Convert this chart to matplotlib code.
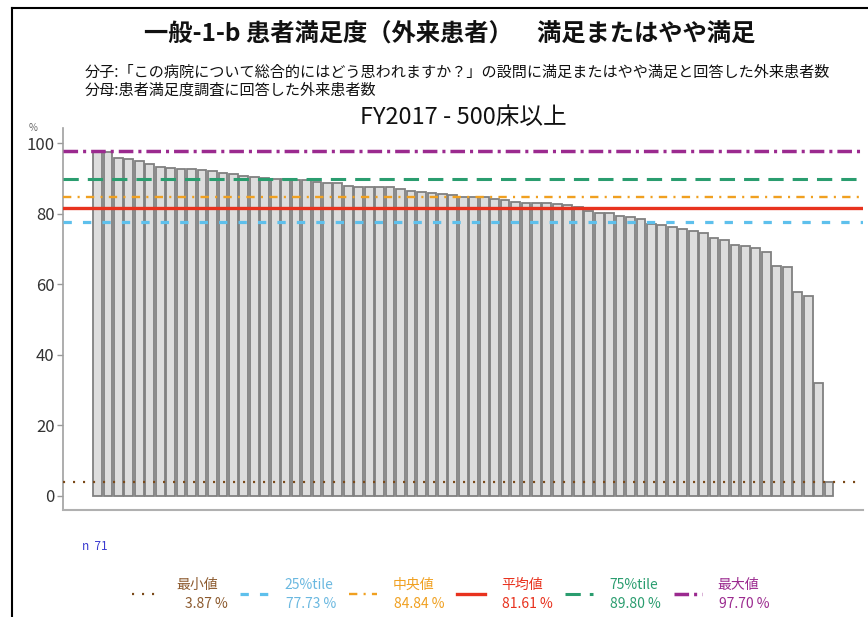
import numpy as np
import matplotlib.pyplot as plt
from matplotlib.lines import Line2D

plt.rcParams['font.family'] = ['Noto Sans CJK JP', 'DejaVu Sans']
plt.rcParams['lines.scale_dashes'] = False

# hospital values (%), sorted descending, n = 71
values = [97.7, 97.5, 95.8, 95.5, 94.9, 94.0, 93.1, 92.8, 92.5, 92.5,
          92.4, 92.1, 91.6, 91.1, 90.7, 90.3, 90.2, 89.9, 89.7, 89.6,
          89.4, 89.0, 88.8, 88.6, 87.8, 87.6, 87.4, 87.4, 87.4, 86.9,
          86.3, 86.1, 85.8, 85.5, 85.2, 84.84, 84.7, 84.6, 84.2, 83.8,
          83.4, 83.1, 83.1, 82.9, 82.7, 82.4, 81.9, 80.7, 80.2, 80.2,
          79.4, 79.1, 78.4, 77.1, 76.7, 76.2, 75.5, 75.2, 74.4, 73.0,
          72.6, 71.1, 70.9, 70.2, 69.2, 65.2, 64.9, 57.7, 56.6, 32.0,
          3.87]

stat_names = ['最小値', '25%tile', '中央値', '平均値', '75%tile', '最大値']
stat_values = [3.87, 77.73, 84.84, 81.61, 89.80, 97.70]
stat_colors = ['#7a4a1a', '#5ec0ec', '#f0a020', '#e8321e', '#2a9d6f', '#9b2a8f']
text_colors = ['#8c5a2e', '#6ab8e0', '#f0a020', '#e8321e', '#2a9d6f', '#9b2a8f']
stat_styles = [(0, (1.5, 5.7)), (0, (6, 8)), (0, (6, 4.5, 1.5, 4.5)),
               '-', (0, (11, 6.5)), (0, (10.5, 3.6, 2.2, 3.6))]
stat_widths = [1.6, 2.3, 1.7, 2.4, 2.2, 2.5]

W, H = 868, 617
fig = plt.figure(figsize=(W / 100, H / 100), dpi=100)

def fx(px):
    return px / W

def fy(py):
    return 1 - py / H

ax = fig.add_axes([fx(63), fy(510), fx(800), 382 / H])

x = np.arange(len(values))
ax.bar(x, values, width=0.84, color='#dddddd', edgecolor='#808080',
       linewidth=1.3, zorder=2)

for v, c, ls, lw in zip(stat_values, stat_colors, stat_styles, stat_widths):
    ax.axhline(v, color=c, linestyle=ls, linewidth=lw, zorder=3)

ax.set_xlim(-3.3, 73.25)
ax.set_ylim(-3.97, 104.25)
ax.set_yticks([0, 20, 40, 60, 80, 100])
ax.set_xticks([])
ax.tick_params(axis='y', length=4, width=1, color='#999999',
               labelsize=12, labelcolor='#333333', pad=2)
for s in ['top', 'right']:
    ax.spines[s].set_visible(False)
ax.spines['left'].set_color('#a0a0a0')
ax.spines['left'].set_linewidth(1.2)
ax.spines['bottom'].set_color('#b0b0b0')
ax.spines['bottom'].set_linewidth(1.5)

# titles
fig.text(fx(450), fy(35), '一般-1-b 患者満足度（外来患者）　満足またはやや満足',
         ha='center', va='center', fontsize=17.5, fontweight='bold', color='#111111')
fig.text(fx(85), fy(72), '分子:「この病院について総合的にはどう思われますか？」の設問に満足またはやや満足と回答した外来患者数',
         ha='left', va='center', fontsize=10.9, color='#111111')
fig.text(fx(85), fy(90), '分母:患者満足度調査に回答した外来患者数',
         ha='left', va='center', fontsize=10.9, color='#111111')
fig.text(fx(463), fy(117), 'FY2017 - 500床以上', ha='center', va='center',
         fontsize=17, color='#111111')
fig.text(fx(33), fy(128), '%', ha='center', va='center', fontsize=7, color='#666666')

fig.text(fx(82), fy(547), 'n  71', ha='left', va='center', fontsize=8.5, color='#3a3ad0')

# legend along the bottom
for i in range(len(stat_names)):
    sx = 132 + i * 108.3
    lx = sx + 44
    fig.add_artist(Line2D([fx(sx), fx(sx + 28)], [fy(594), fy(594)],
                          color=stat_colors[i], linestyle=stat_styles[i],
                          linewidth=stat_widths[i]))
    fig.text(fx(lx), fy(585), stat_names[i], ha='left', va='center',
             fontsize=10, color=text_colors[i])
    fig.text(fx(lx + 52), fy(604), f'{stat_values[i]:.2f} %', ha='right',
             va='center', fontsize=10, color=text_colors[i])

# screenshot frame
fig.add_artist(Line2D([fx(12), fx(12)], [fy(8), 0], color='black', linewidth=1.5))
fig.add_artist(Line2D([fx(12), 1], [fy(8), fy(8)], color='black', linewidth=1.5))

fig.savefig('out.png', dpi=100)
